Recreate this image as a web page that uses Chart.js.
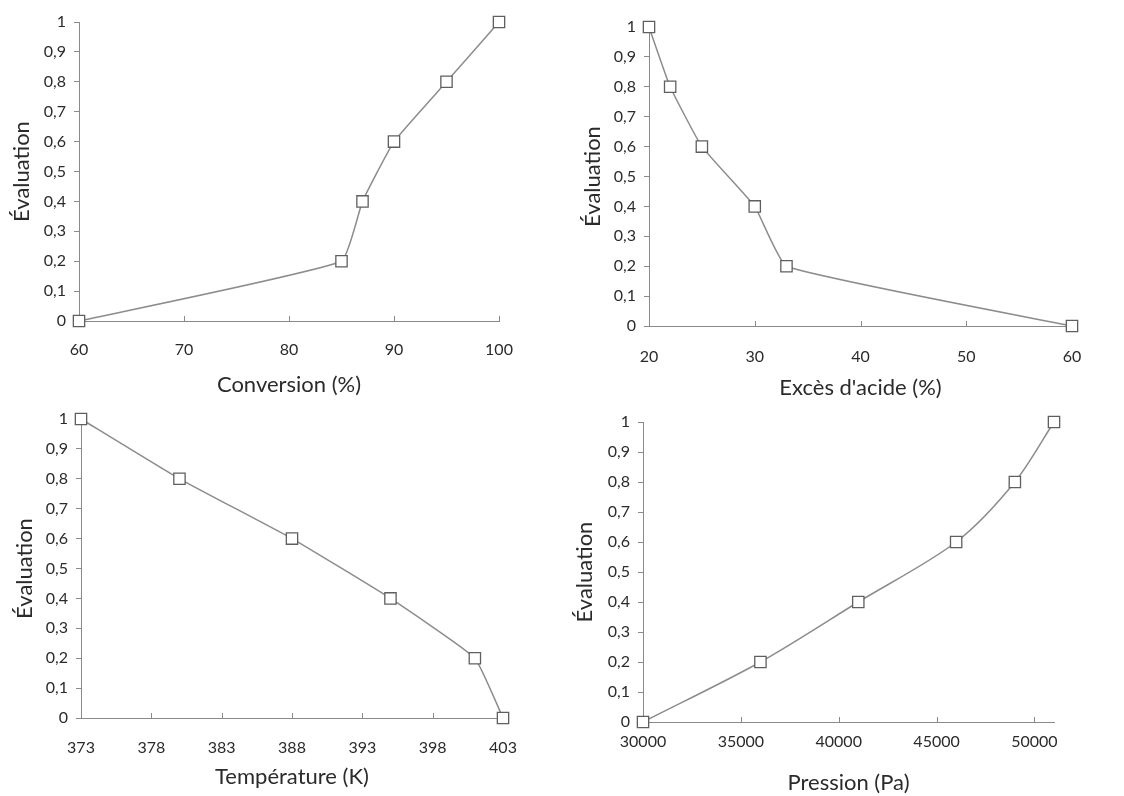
<!DOCTYPE html>
<html>
<head>
<meta charset="utf-8">
<script src="https://cdn.jsdelivr.net/npm/chart.js@4"></script>
<style>
  body { margin: 0; background: #fff; }
  #wrap { position: relative; width: 1124px; height: 796px; }
  canvas { position: absolute; left: 0; top: 0; }
</style>
</head>
<body>
<div id="wrap">
  <canvas id="c1" width="1124" height="796"></canvas>
  <canvas id="c2" width="1124" height="796"></canvas>
  <canvas id="c3" width="1124" height="796"></canvas>
  <canvas id="c4" width="1124" height="796"></canvas>
</div>
<script>
// evaluation values, same for all four panels
var evalY = [0, 0.2, 0.4, 0.6, 0.8, 1];

var conversionX = [60, 85, 87, 90, 95, 100];
var conversionTicks = [60, 70, 80, 90, 100];

var acideX = [20, 22, 25, 30, 33, 60];
var acideY = [1, 0.8, 0.6, 0.4, 0.2, 0];
var acideTicks = [20, 30, 40, 50, 60];

var tempX = [373, 380, 388, 395, 401, 403];
var tempY = [1, 0.8, 0.6, 0.4, 0.2, 0];
var tempTicks = [373, 378, 383, 388, 393, 398, 403];

var pressionX = [30000, 36000, 41000, 46000, 49000, 51000];
var pressionTicks = [30000, 35000, 40000, 45000, 50000];

var yTitle = 'Évaluation';
var W = 1124, H = 796;
var FONT = 'Lato, "Open Sans", sans-serif';
var TXT = '#2b2b2b';
var AXIS = '#8a8a8a';
var TITLE_SIZE = 22, TICK_SIZE = 16;

// small ticks pointing up into the plot, like the original
var innerTicks = {
  id: 'innerTicks',
  beforeDatasetsDraw: function(chart) {
    var sc = chart.scales.x;
    var ctx = chart.ctx;
    ctx.save();
    ctx.strokeStyle = AXIS;
    ctx.lineWidth = 1;
    sc.ticks.forEach(function(t, i) {
      if (i === 0) return;
      var px = Math.round(sc.getPixelForValue(t.value)) + 0.5;
      ctx.beginPath();
      ctx.moveTo(px, sc.top);
      ctx.lineTo(px, sc.top - 5);
      ctx.stroke();
    });
    ctx.restore();
  }
};

function fmt(v) {
  return String(Math.round(v * 10) / 10).replace('.', ',');
}

function makeChart(id, xs, ys, xTicks, box, xTitle, tension) {
  var pts = [];
  for (var i = 0; i < xs.length; i++) pts.push({x: xs[i], y: ys[i]});

  var half = TITLE_SIZE * 1.2 / 2;
  var padLeft = box.yTitleX - half;
  var padBottom = Math.max(0, H - (box.xTitleY + half));
  var xHeight = (H - padBottom) - box.bottom;

  new Chart(document.getElementById(id), {
    type: 'line',
    data: {
      datasets: [{
        data: pts,
        borderColor: '#8c8c8c',
        borderWidth: 1.5,
        tension: tension,
        pointStyle: 'rect',
        pointRadius: 8,
        pointBackgroundColor: '#ffffff',
        pointBorderColor: '#5f5f5f',
        pointBorderWidth: 1.3,
        clip: false
      }]
    },
    options: {
      responsive: false,
      animation: false,
      events: [],
      layout: {padding: {left: padLeft, top: box.top, right: W - box.right, bottom: padBottom}},
      plugins: {legend: {display: false}, tooltip: {enabled: false}},
      scales: {
        x: {
          type: 'linear',
          min: xTicks[0], max: box.xMax || xTicks[xTicks.length - 1],
          grid: {display: false},
          border: {color: AXIS, width: 1},
          ticks: {
            color: TXT, maxRotation: 0, autoSkip: false,
            font: {family: FONT, size: TICK_SIZE},
            padding: box.xLabelY - box.bottom - TICK_SIZE * 1.2 / 2 - 7,
            callback: function(v) { return String(v); }
          },
          afterBuildTicks: function(s) {
            s.ticks = xTicks.map(function(v) { return {value: v}; });
          },
          title: {display: true, text: xTitle, color: TXT, padding: 0,
                  font: {family: FONT, size: TITLE_SIZE}},
          afterFit: function(s) { s.height = xHeight; }
        },
        y: {
          min: 0, max: 1,
          grid: {drawOnChartArea: false, drawTicks: true, tickLength: 5, color: AXIS},
          border: {color: AXIS, width: 1},
          ticks: {stepSize: 0.1, padding: 8, color: TXT,
                  font: {family: FONT, size: TICK_SIZE}, callback: fmt},
          title: {display: true, text: yTitle, color: TXT, padding: 0,
                  font: {family: FONT, size: TITLE_SIZE}},
          afterFit: function(s) { s.width = box.left - padLeft; }
        }
      }
    },
    plugins: [innerTicks]
  });
}

makeChart('c1', conversionX, evalY, conversionTicks,
  {left: 79, right: 499, top: 22, bottom: 321, yTitleX: 22, xLabelY: 349, xTitleY: 385},
  'Conversion (%)', 0.12);

makeChart('c2', acideX, acideY, acideTicks,
  {left: 649, right: 1072, top: 27, bottom: 326, yTitleX: 593, xLabelY: 356, xTitleY: 388},
  "Excès d'acide (%)", 0.12);

makeChart('c3', tempX, tempY, tempTicks,
  {left: 81, right: 503, top: 419, bottom: 718, yTitleX: 25, xLabelY: 747, xTitleY: 777},
  'Température (K)', 0.12);

makeChart('c4', pressionX, evalY, pressionTicks,
  {left: 643, right: 1054, top: 422, bottom: 722, yTitleX: 585, xLabelY: 741, xTitleY: 784, xMax: 51000},
  'Pression (Pa)', 0.3);
</script>
</body>
</html>
